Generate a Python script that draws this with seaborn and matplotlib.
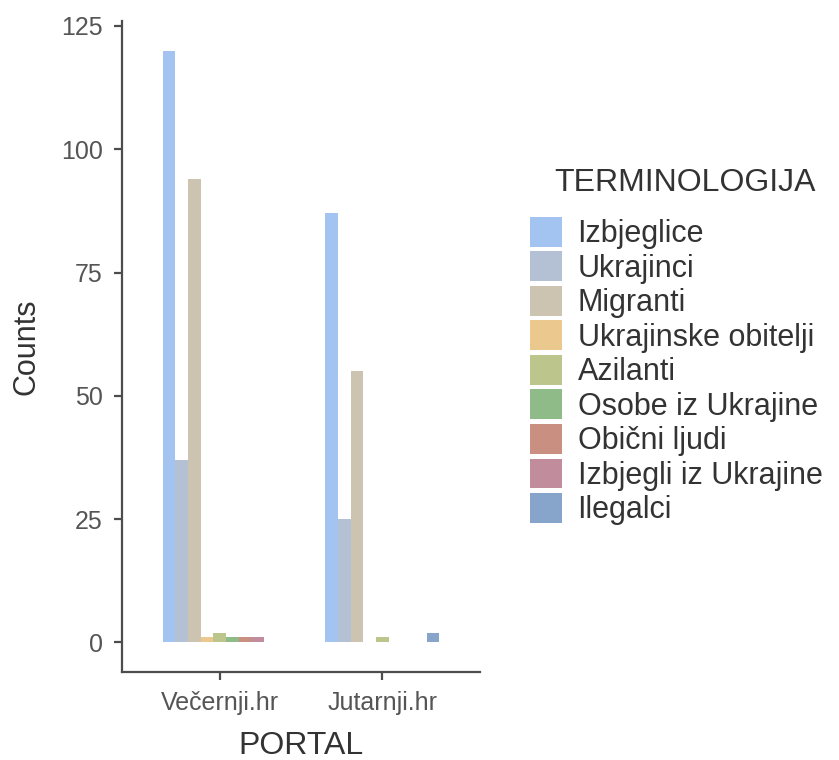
import pandas as pd
import matplotlib
matplotlib.use("Agg")
import matplotlib.pyplot as plt
import seaborn as sns

# --- data ---
portals = ["Večernji.hr", "Jutarnji.hr"]
terms = ["Izbjeglice", "Ukrajinci", "Migranti", "Ukrajinske obitelji", "Azilanti",
         "Osobe iz Ukrajine", "Obični ljudi", "Izbjegli iz Ukrajine", "Ilegalci"]
vecernji_counts = [120, 37, 94, 1, 2, 1, 1, 1, 0]
jutarnji_counts = [87, 25, 55, 0, 1, 0, 0, 0, 2]
term_colors = ["#a3c3f0", "#b4c1d4", "#ccc3b0", "#ebc88e", "#bcc68c",
               "#8fbb88", "#c98f80", "#c18c9c", "#87a5cb"]

df = pd.DataFrame({
    "PORTAL": [portals[0]] * len(terms) + [portals[1]] * len(terms),
    "TERMINOLOGIJA": terms * 2,
    "Counts": vecernji_counts + jutarnji_counts,
})

# --- style ---
sns.set_theme(style="ticks")
plt.rcParams["font.family"] = ["Liberation Sans", "DejaVu Sans"]
grey_axis = "#4d4d4d"
grey_text = "#555555"

fig = plt.figure(figsize=(8.39, 7.6), dpi=100)
ax = fig.add_axes([0.1454, 0.1158, 0.4267, 0.8566])

sns.barplot(data=df, x="PORTAL", y="Counts", hue="TERMINOLOGIJA",
            order=portals, hue_order=terms, palette=term_colors,
            width=0.7, dodge=True, linewidth=0, saturation=1, ax=ax)

ax.set_xlim(-0.6, 1.6)
ax.set_ylim(-6, 126)
ax.set_yticks([0, 25, 50, 75, 100, 125])

sns.despine(ax=ax)
for side in ["left", "bottom"]:
    ax.spines[side].set_color(grey_axis)
    ax.spines[side].set_linewidth(1.6)
ax.tick_params(axis="both", colors=grey_axis, width=1.6, length=6,
               labelsize=18, labelcolor=grey_text, pad=8)

ax.set_xlabel("PORTAL", fontsize=23, color="#333333", labelpad=11)
ax.set_ylabel("Counts", fontsize=22, color="#333333", labelpad=14)

# --- legend (title drawn separately to get the ggplot-like gap) ---
handles, labels = ax.get_legend_handles_labels()
leg = ax.legend(handles, labels,
                loc="upper left", bbox_to_anchor=(0.632, 0.7147),
                bbox_transform=fig.transFigure, frameon=False,
                fontsize=22, borderpad=0, borderaxespad=0,
                handlelength=1.05, handleheight=1.12, handletextpad=0.5,
                labelspacing=0.075)
for t in leg.get_texts():
    t.set_color("#333333")
fig.text(0.8164, 0.7592, "TERMINOLOGIJA", fontsize=23, color="#333333",
         ha="center", va="center")

fig.savefig("out.png", dpi=100)
